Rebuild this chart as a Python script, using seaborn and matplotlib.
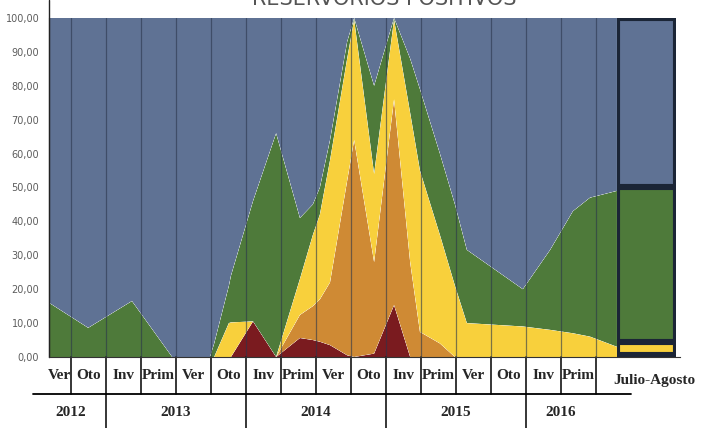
import numpy as np
import pandas as pd
import matplotlib
matplotlib.use("Agg")
import matplotlib.pyplot as plt
import seaborn as sns
import seaborn.objects as so

# tabla inferior
estaciones = ["Ver", "Oto", "Inv", "Prim", "Ver", "Oto", "Inv", "Prim",
              "Ver", "Oto", "Inv", "Prim", "Ver", "Oto", "Inv", "Prim"]
anios = ["2012", "2013", "2014", "2015", "2016"]
anios_n = [2, 4, 4, 4, 2]  # estaciones por año

# posicion de cada vertice en unidades de estacion (0 = Ver 2012)
periodo = [-0.13, 0.99, 2.24, 3.39, 4.47, 4.59, 5.01, 5.07, 5.70, 6.36,
           7.04, 7.41, 7.61, 7.90, 8.39, 8.59, 9.16, 9.73, 10.19, 10.47,
           11.04, 11.47, 11.81, 13.41, 14.19, 14.84, 15.33, 16.10]
# porcentajes por capa (de abajo hacia arriba)
rojo = [0, 0, 0, 0, 0, 0, 0, 0, 10.5, 0,
        5.6, 5, 4.5, 3.5, 0.5, 0, 1, 15.3, 0, 0,
        0, 0, 0, 0, 0, 0, 0, 0]
naranja = [0, 0, 0, 0, 0, 0, 0, 0, 0, 0,
           6.8, 10, 12.5, 18.5, 51.5, 64, 27, 60.7, 28, 7.4,
           4, 0, 0, 0, 0, 0, 0, 0]
amarillo = [0, 0, 0, 0, 0, 0, 10, 10.2, 0, 0,
            10.6, 21, 25, 36, 36, 35.5, 26, 23.5, 44, 47.6,
            32, 21, 10, 9, 8, 7, 6, 3]
verde = [16, 8.6, 16.5, 0, 0, 4, 11, 13.8, 35.5, 66,
         18, 9, 8, 6, 5, 0.5, 26, 0.5, 16, 24,
         24, 24, 21.6, 11, 23.6, 36, 41, 46]
azul = [84, 91.4, 83.5, 100, 100, 96, 79, 76, 54, 34,
        59, 55, 50, 36, 7, 0, 20, 0, 12, 21,
        40, 55, 68.4, 80, 68.4, 57, 53, 51]
# barra Julio-Agosto
julio_agosto = [0, 0.5, 4, 45.5, 50]

capas = ["rojo", "naranja", "amarillo", "verde", "azul"]
colores = dict(zip(capas, ["#7a1b1f", "#cf8a34", "#f8d03c", "#4e7a3a", "#5f7294"]))

df = pd.DataFrame({
    "periodo": periodo * 5,
    "pct": rojo + naranja + amarillo + verde + azul,
    "capa": np.repeat(capas, len(periodo)),
})
X_JA = 16.95
df_ja = pd.DataFrame({"periodo": [X_JA] * 5, "pct": julio_agosto, "capa": capas})

sns.set_style("white")
plt.rcParams["font.family"] = ["DejaVu Sans"]

fig = plt.figure(figsize=(7.01, 4.28), dpi=100)
ax = fig.add_axes([0.0699, 0.1659, 0.9001, 0.7921])

(
    so.Plot(df, x="periodo", y="pct", color="capa")
    .add(so.Area(alpha=1, edgewidth=0), so.Stack(), legend=False)
    .add(so.Bar(width=1.69, alpha=1, edgecolor="#1b2536", edgewidth=2.2),
         so.Stack(), data=df_ja, orient="x", legend=False)
    .scale(color=colores)
    .label(x="", y="")
    .on(ax)
    .plot()
)

ax.set_facecolor("white")
ax.grid(False)
ax.set_xlim(-0.13, 17.9)
ax.set_ylim(0, 100)
ax.set_xticks([])
yt = list(range(0, 101, 10))
ax.set_yticks(yt, labels=[f"{v:.2f}".replace(".", ",") for v in yt],
              fontsize=7, color="#5c5c5c")
ax.tick_params(axis="y", length=3, width=0.8, color="#444444", pad=4, direction="out")
for s in ["top", "right"]:
    ax.spines[s].set_visible(False)
ax.spines["left"].set_color("#222222")
ax.spines["bottom"].set_color("#333333")
ax.plot([0, 0], [0, 1.053], transform=ax.transAxes, color="#222222", lw=1, clip_on=False)

# lineas verticales de cada estacion sobre las areas
for k in range(len(estaciones)):
    ax.axvline(k + 0.5, color="#2a354b", lw=0.9, alpha=0.6, zorder=3)

# tabla inferior
tr = ax.get_xaxis_transform()
y_fila = -0.109
y_fin = -0.215
ax.plot([-0.59, 16.5], [y_fila, y_fila], transform=tr, color="black", lw=1.3, clip_on=False)
for k in range(len(estaciones)):
    ax.plot([k + 0.5, k + 0.5], [0, y_fila], transform=tr, color="black", lw=1.1, clip_on=False)
for i, e in enumerate(estaciones):
    xc = i if i > 0 else 0.18
    ax.text(xc, -0.056, e, transform=tr, ha="center", va="center",
            family="Liberation Serif", weight="bold", fontsize=11)
ini = -0.5
for a, n in zip(anios, anios_n):
    ax.text(ini + n / 2, -0.165, a, transform=tr, ha="center", va="center",
            family="Liberation Serif", weight="bold", fontsize=11)
    ini += n
    if ini < 15:
        ax.plot([ini, ini], [y_fila, y_fin], transform=tr, color="black", lw=1.1, clip_on=False)
ax.text(17.16, -0.068, "Julio-Agosto", transform=tr, ha="center", va="center",
        family="Liberation Serif", weight="bold", fontsize=11)

# titulo cortado en el borde superior, como en el original
fig.text(0.548, 0.988, "RESERVORIOS POSITIVOS", ha="center", va="baseline",
         fontsize=15, color="#555555")

fig.savefig("out.png", dpi=100)
